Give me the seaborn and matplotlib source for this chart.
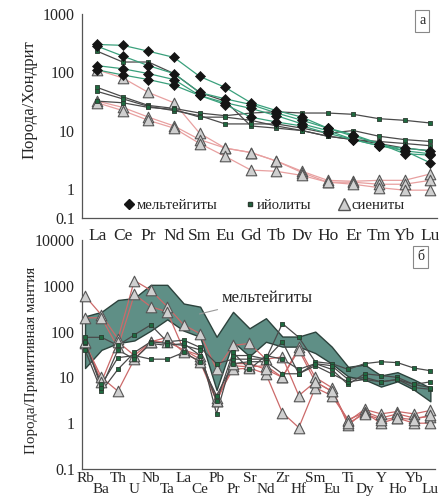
import matplotlib

matplotlib.use("Agg")

import matplotlib.pyplot as plt
import numpy as np
import pandas as pd
import seaborn as sns

sns.set_theme(style="white")
plt.rcParams["font.family"] = ["Liberation Serif", "DejaVu Serif"]

# --- chondrite-normalised REE (panel a) ---
ree = ["La", "Ce", "Pr", "Nd", "Sm", "Eu", "Gd", "Tb", "Dy", "Ho", "Er", "Tm", "Yb", "Lu"]

melt_ree = [
    [300, 290, 230, 180, 85, 55, 30, 22, 17, 11, 8.5, 6, 4.5, 2.8],
    [280, 190, 130, 95, 45, 35, 28, 20, 15, 11, 8, 6, 4, 3.8],
    [130, 115, 95, 75, 40, 30, 24, 18, 13, 10, 7, 5.5, 5, 4.5],
    [110, 90, 75, 60, 40, 28, 17, 14, 12, 9, 7, 5.5, 4.5, 4.0],
]
ijol_ree = [
    [230, 150, 150, 95, 45, 32, 12, 11, 10, 8, 7, 6, 5, 4.5],
    [55, 38, 27, 24, 20, 18, 20, 21, 20, 20, 19, 16, 15, 13.5],
    [47, 35, 26, 22, 18, 13, 13, 13, 11, 9, 10, 8, 7, 6.5],
    [32, 30, 25, 23, 17, 17, 15, 12, 10, 8, 7, 6.5, 6, 5.5],
]
sien_ree = [
    [110, 80, 45, 30, 9, 5, 4.2, 3, 2, 1.4, 1.35, 1.4, 1.4, 1.8],
    [32, 25, 17, 12, 7, 5, 4.2, 3, 1.9, 1.3, 1.3, 1.2, 1.2, 1.4],
    [30, 22, 15, 11, 6, 3.6, 2.1, 2, 1.7, 1.3, 1.2, 1.05, 0.95, 0.95],
]

# --- primitive-mantle-normalised spider (panel б) ---
spider = ["Rb", "Ba", "Th", "U", "Nb", "Ta", "La", "Ce", "Pb", "Pr", "Sr",
          "Nd", "Zr", "Hf", "Sm", "Eu", "Ti", "Dy", "Y", "Ho", "Yb", "Lu"]

melt_upper = [215, 270, 490, 540, 1050, 1050, 410, 350, 77, 270, 118,
              196, 78, 78, 100, 47, 17, 19, 11, 13, 9, 5.9]
melt_lower = [16, 40, 56, 64, 105, 185, 105, 77, 5.3, 60, 29,
              60, 47, 47, 34, 20, 10.5, 9, 6.3, 8.2, 5.4, 3.0]

ijol_sp = [
    [75, 75, 50, 85, 140, 60, 65, 45, 20, 25, 25, 25, 150, 75, 22, 20, 15, 20, 22, 21, 16, 14],
    [40, 5, 15, 35, 60, 55, 50, 40, 1.6, 30, 30, 25, 60, 12, 20, 15, 7, 12, 11, 10, 7, 8],
    [55, 7, 27, 30, 25, 25, 35, 22, 4, 20, 22, 22, 12, 12, 18, 12, 8, 9, 8, 9, 6, 5.5],
    [60, 6, 40, 25, 55, 50, 55, 30, 3, 35, 15, 30, 25, 15, 20, 18, 9, 10, 8, 9, 7, 6],
]
sien_sp = [
    [600, 230, 70, 1300, 800, 350, 140, 90, 15, 50, 55, 25, 28, 4, 8, 5, 1.1, 2, 1.6, 1.8, 1.6, 1.9],
    [200, 200, 45, 650, 350, 270, 40, 30, 3, 18, 17, 18, 10, 45, 10, 6, 0.9, 1.8, 1.3, 1.6, 1.3, 1.4],
    [55, 10, 5, 25, 60, 60, 40, 25, 3.5, 15, 16, 12, 1.7, 0.8, 6, 4, 1.2, 1.7, 1.0, 1.3, 1.0, 1.0],
    [60, 8, 60, 30, 60, 75, 35, 22, 3, 20, 20, 15, 10, 40, 8, 5, 1.0, 1.6, 1.2, 1.3, 1.2, 1.5],
]

line_col = {"мельтейгиты": "#3aa07c", "ийолиты": "#4a4a4a", "сиениты": "#e8a0a0"}
mark = {
    "мельтейгиты": dict(marker="D", s=26, color="#151515", edgecolor="#151515", linewidth=0.5),
    "ийолиты": dict(marker="s", s=11, color="#1f6a40", edgecolor="#2b3b30", linewidth=0.6),
    "сиениты": dict(marker="^", s=58, color="#cfcfcf", edgecolor="#555555", linewidth=0.8),
}


def long_table(elements, sets):
    rows = []
    for grp, series in sets.items():
        for k, vals in enumerate(series):
            for i, v in enumerate(vals):
                rows.append((grp, f"{grp}{k}", i, elements[i], v))
    return pd.DataFrame(rows, columns=["rock", "sample", "pos", "element", "value"])


def draw(ax, df, order, lw=0.9, sien_line=None):
    for grp in order:
        sub = df[df["rock"] == grp]
        col = sien_line if (grp == "сиениты" and sien_line) else line_col[grp]
        sns.lineplot(data=sub, x="pos", y="value", units="sample", estimator=None,
                     color=col, lw=lw, ax=ax, legend=False, sort=False)
    for grp in order:
        sub = df[df["rock"] == grp]
        sns.scatterplot(data=sub, x="pos", y="value", ax=ax, zorder=3, legend=False,
                        clip_on=False, **mark[grp])


fig = plt.figure(figsize=(4.46, 5.0), dpi=100)
ax1 = fig.add_axes([0.184, 0.564, 0.796, 0.408])
ax2 = fig.add_axes([0.184, 0.062, 0.792, 0.458])

# panel a
df_a = long_table(ree, {"мельтейгиты": melt_ree, "ийолиты": ijol_ree, "сиениты": sien_ree})
ax1.set_yscale("log")
draw(ax1, df_a, ["сиениты", "ийолиты", "мельтейгиты"])
ax1.set_xlim(-0.59, 13.27)
ax1.set_ylim(10 ** -0.5, 1000)
ax1.set_yticks([10 ** -0.5, 1, 10, 100, 1000])
ax1.set_yticklabels(["0.1", "1", "10", "100", "1000"])
ax1.yaxis.set_minor_locator(matplotlib.ticker.NullLocator())
ax1.set_xticks(range(len(ree)))
ax1.set_xticklabels(ree)
ax1.set_xlabel("")
ax1.set_ylabel("Порода/Хондрит", fontsize=12)
ax1.yaxis.set_label_coords(-0.125, 0.578)
ax1.tick_params(axis="x", which="major", pad=7, labelsize=12.5)
ax1.text(0.958, 0.966, "а", transform=ax1.transAxes, ha="center", va="center", fontsize=10,
         bbox=dict(boxstyle="square,pad=0.3", facecolor="white", edgecolor="#888888", lw=0.8))

handles = [
    plt.Line2D([], [], ls="none", marker="D", ms=5.5, color="#151515", label="мельтейгиты"),
    plt.Line2D([], [], ls="none", marker="s", ms=3.5, color="#1f6a40", mec="#2b3b30", label="ийолиты"),
    plt.Line2D([], [], ls="none", marker="^", ms=8, color="#cfcfcf", mec="#555555", label="сиениты"),
]
ax1.legend(handles=handles, loc="lower center", bbox_to_anchor=(0.51, -0.035), ncol=3, frameon=False,
           fontsize=10.6, handletextpad=0.0, columnspacing=1.7, handlelength=1.0)

# panel б
df_b = long_table(spider, {"ийолиты": ijol_sp, "сиениты": sien_sp})
ax2.set_yscale("log")
band = pd.DataFrame({"pos": np.arange(len(spider)), "upper": melt_upper, "lower": melt_lower})
ax2.fill_between(band["pos"], band["lower"], band["upper"], color="#5f8f86", edgecolor="#2c423c",
                 lw=1.0, zorder=1)
draw(ax2, df_b, ["сиениты", "ийолиты"], sien_line="#cc6a6a")
ax2.set_xlim(-0.18, 21.3)
ax2.set_ylim(0.1, 10000)
ax2.set_yticks([0.1, 1, 10, 100, 1000, 10000])
ax2.set_yticklabels(["0.1", "1", "10", "100", "1000", "10000"])
ax2.yaxis.set_minor_locator(matplotlib.ticker.NullLocator())
ax2.set_xticks(range(0, len(spider), 2))
ax2.set_xticklabels(spider[0::2])
ax2.set_xticks(range(1, len(spider), 2), minor=True)
ax2.set_xticklabels(spider[1::2], minor=True)
ax2.tick_params(axis="x", which="major", pad=2.5, labelsize=11)
ax2.tick_params(axis="x", which="minor", pad=10, labelsize=11, direction="in", length=3,
                color="#555555")
ax2.set_xlabel("")
ax2.set_ylabel("Порода/Примитивная мантия", fontsize=10.8)
ax2.yaxis.set_label_coords(-0.125, 0.476)
ax2.text(0.958, 0.926, "б", transform=ax2.transAxes, ha="center", va="center", fontsize=10,
         bbox=dict(boxstyle="square,pad=0.3", facecolor="white", edgecolor="#888888", lw=0.8))
ax2.annotate("мельтейгиты", xy=(6.8, 235), xytext=(8.3, 550), fontsize=12, va="center",
             arrowprops=dict(arrowstyle="-", color="#999999", lw=0.8))

for ax in (ax1, ax2):
    sns.despine(ax=ax)
    for side in ("left", "bottom"):
        ax.spines[side].set_color("#555555")
        ax.spines[side].set_linewidth(0.9)
    ax.tick_params(axis="y", which="major", direction="out", length=4, labelsize=11.5,
                   color="#555555", pad=1)
    ax.tick_params(axis="x", which="major", direction="in", length=3, color="#555555")
    ax.grid(False)

fig.savefig("out.png", dpi=100)
